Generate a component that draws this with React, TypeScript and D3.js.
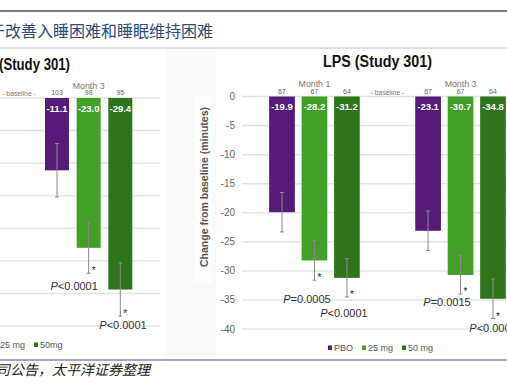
import React, { useRef, useEffect } from 'react';
import * as d3 from 'd3';

// doses shared by both panels
const doses = ['PBO', '25 mg', '50 mg'];
const doseColors = ['#561a78', '#42a026', '#2e741b'];

// LPS (Study 301) panel
const lpsMonths = ['Month 1', 'Month 3'];
const lpsValues = [[-19.9, -28.2, -31.2], [-23.1, -30.7, -34.8]];
const lpsErrors = [[3.4, 3.4, 3.3], [3.4, 3.3, 3.4]];
const lpsCounts = [[67, 67, 64], [67, 67, 64]];
const lpsPValues = [[null, '=0.0005', '<0.0001'], [null, '=0.0015', '<0.0001']];
const lpsTicks = [0, -5, -10, -15, -20, -25, -30, -35, -40];

// left panel, cropped: only Month 3 is in view
const leftMonths = ['Month 3'];
const leftValues = [[-11.1, -23.0, -29.4]];
const leftErrors = [[4.1, 3.9, 4.1]];
const leftCounts = [[103, 98, 95]];
const leftPValues = [[null, '<0.0001', '<0.0001']];
const leftTicks = [0, -5, -10, -15, -20, -25, -30, -35];
const leftLegend = ['PBO', '25 mg', '50mg'];

const FONT = '"Liberation Sans", Arial, sans-serif';
const CJK = '"Noto Sans CJK SC", sans-serif';

function drawPanel(svg, cfg) {
    const g = svg.append('g');
    const y = d3.scaleLinear().domain(cfg.yDomain).range(cfg.yRange);
    const x = d3.scaleLinear().domain(cfg.slotDomain).range(cfg.slotRange);

    // gridlines
    g.selectAll('.grid')
        .data(cfg.ticks)
        .enter()
        .append('line')
        .attr('x1', cfg.gridX[0])
        .attr('x2', cfg.gridX[1])
        .attr('y1', d => y(d))
        .attr('y2', d => y(d))
        .attr('stroke', '#e3e3e3')
        .attr('stroke-width', 1.5);

    if (cfg.showAxis) {
        g.selectAll('.tick')
            .data(cfg.ticks)
            .enter()
            .append('text')
            .attr('x', cfg.axisX)
            .attr('y', d => y(d))
            .attr('dy', '0.35em')
            .attr('text-anchor', 'end')
            .style('font-family', FONT)
            .style('font-size', '10px')
            .style('fill', '#666')
            .text(d => d);
    }

    // baseline label
    g.append('text')
        .attr('x', x(cfg.baselineSlot))
        .attr('y', y(0) - 2)
        .attr('text-anchor', 'middle')
        .style('font-family', FONT)
        .style('font-size', '6.8px')
        .style('fill', '#777')
        .text('- baseline -');

    cfg.months.forEach((month, m) => {
        const start = cfg.monthSlots[m];

        g.append('text')
            .attr('x', x(start + 1))
            .attr('y', y(0) - 9.5)
            .attr('text-anchor', 'middle')
            .style('font-family', FONT)
            .style('font-size', '8.8px')
            .style('fill', '#777')
            .text(month);

        doses.forEach((dose, i) => {
            const cx = x(start + i);
            const v = cfg.values[m][i];
            const e = cfg.errors[m][i];

            g.append('rect')
                .attr('x', cx - cfg.barWidth / 2)
                .attr('y', y(0))
                .attr('width', cfg.barWidth)
                .attr('height', y(v) - y(0))
                .attr('fill', doseColors[i]);

            g.append('text')
                .attr('x', cx)
                .attr('y', y(0) - 3)
                .attr('text-anchor', 'middle')
                .style('font-family', FONT)
                .style('font-size', '7px')
                .style('fill', '#666')
                .text(cfg.counts[m][i]);

            g.append('text')
                .attr('x', cx)
                .attr('y', y(0) + 13.5)
                .attr('text-anchor', 'middle')
                .style('font-family', FONT)
                .style('font-size', '9.5px')
                .style('font-weight', 'bold')
                .style('fill', '#fff')
                .text(v.toFixed(1));

            // error bar
            const top = y(v + e);
            const bottom = y(v - e);
            g.append('line')
                .attr('x1', cx).attr('x2', cx)
                .attr('y1', top).attr('y2', bottom)
                .attr('stroke', '#8a8a8a').attr('stroke-width', 1);
            [top, bottom].forEach(yy => {
                g.append('line')
                    .attr('x1', cx - 2).attr('x2', cx + 2)
                    .attr('y1', yy).attr('y2', yy)
                    .attr('stroke', '#8a8a8a').attr('stroke-width', 1);
            });

            const p = cfg.pValues[m][i];
            if (p) {
                g.append('text')
                    .attr('x', cx + 3)
                    .attr('y', bottom + 1)
                    .style('font-family', FONT)
                    .style('font-size', '10px')
                    .style('fill', '#222')
                    .text('*');

                const nudge = cfg.pNudge[m][i];
                const t = g.append('text')
                    .attr('x', cx + nudge[0])
                    .attr('y', bottom + nudge[1])
                    .attr('text-anchor', 'middle')
                    .style('font-family', FONT)
                    .style('font-size', '11px')
                    .style('fill', '#333');
                t.append('tspan').style('font-style', 'italic').text('P');
                t.append('tspan').text(p);
            }
        });
    });

    // legend
    let lx = cfg.legendX;
    cfg.legend.forEach((name, i) => {
        g.append('rect')
            .attr('x', lx)
            .attr('y', cfg.legendY - 2.5)
            .attr('width', 4)
            .attr('height', 4.5)
            .attr('fill', doseColors[i]);
        const t = g.append('text')
            .attr('x', lx + 6)
            .attr('y', cfg.legendY)
            .attr('dy', '0.35em')
            .style('font-family', FONT)
            .style('font-size', '9px')
            .style('fill', '#555')
            .text(name);
        lx += 6 + t.node().getComputedTextLength() + 9;
    });

    return g;
}

const App = () => {
    const svgRef = useRef();

    useEffect(() => {
        if (!svgRef.current) return;
        document.body.style.margin = '0';

        const svg = d3.select(svgRef.current);
        svg.selectAll('*').remove();

        svg.append('rect').attr('width', 507).attr('height', 384).attr('fill', '#fff');

        // faint band between the two panels
        svg.append('rect')
            .attr('x', 166).attr('y', 50).attr('width', 50).attr('height', 308)
            .attr('fill', '#f9f9f9');
        svg.append('rect')
            .attr('x', 195).attr('y', 95).attr('width', 17).attr('height', 188)
            .attr('fill', '#fdfdfd');

        // header
        svg.append('line')
            .attr('x1', 0).attr('x2', 507).attr('y1', 11).attr('y2', 11)
            .attr('stroke', '#4a4a72').attr('stroke-width', 1.5);
        svg.append('text')
            .attr('x', -11)
            .attr('y', 37)
            .style('font-family', CJK)
            .style('font-size', '16px')
            .style('fill', '#2a4b7f')
            .text('于改善入睡困难和睡眠维持困难');
        svg.append('line')
            .attr('x1', 0).attr('x2', 507).attr('y1', 48).attr('y2', 48)
            .attr('stroke', '#b9b9d6').attr('stroke-width', 1);

        // panel titles
        svg.append('text')
            .attr('x', -1)
            .attr('y', 70)
            .attr('textLength', 71)
            .attr('lengthAdjust', 'spacingAndGlyphs')
            .style('font-family', FONT)
            .style('font-size', '16px')
            .style('font-weight', 'bold')
            .style('fill', '#111')
            .text('(Study 301)');
        svg.append('text')
            .attr('x', 323)
            .attr('y', 66.5)
            .attr('textLength', 109)
            .attr('lengthAdjust', 'spacingAndGlyphs')
            .style('font-family', FONT)
            .style('font-size', '16px')
            .style('font-weight', 'bold')
            .style('fill', '#111')
            .text('LPS (Study 301)');

        drawPanel(svg, {
            months: leftMonths,
            values: leftValues,
            errors: leftErrors,
            counts: leftCounts,
            pValues: leftPValues,
            ticks: leftTicks,
            yDomain: [0, -35],
            yRange: [98, 326],
            slotDomain: [4.5, 6.5],
            slotRange: [57, 120.3],
            monthSlots: [4.5],
            baselineSlot: 3.3,
            barWidth: 24,
            gridX: [0, 160],
            showAxis: false,
            pNudge: [[null, [-14.5, 17], [2.7, 12.5]]],
            legend: leftLegend,
            legendX: -40,
            legendY: 345,
        });

        drawPanel(svg, {
            months: lpsMonths,
            values: lpsValues,
            errors: lpsErrors,
            counts: lpsCounts,
            pValues: lpsPValues,
            ticks: lpsTicks,
            yDomain: [0, -40],
            yRange: [96.5, 329],
            slotDomain: [0, 6.5],
            slotRange: [282, 493],
            monthSlots: [0, 4.5],
            baselineSlot: 3.25,
            barWidth: 25.7,
            gridX: [242, 507],
            showAxis: true,
            axisX: 235,
            pNudge: [[null, [-7.5, 22.5], [-3, 20]], [null, [-13.5, 12], [0, 13]]],
            legend: doses,
            legendX: 328,
            legendY: 348,
        });

        // y axis title of the LPS panel
        svg.append('text')
            .attr('transform', 'translate(204, 187) rotate(-90)')
            .attr('text-anchor', 'middle')
            .attr('dy', '0.35em')
            .attr('textLength', 160)
            .attr('lengthAdjust', 'spacingAndGlyphs')
            .style('font-family', FONT)
            .style('font-size', '10.5px')
            .style('font-weight', 'bold')
            .style('fill', '#555')
            .text('Change from baseline (minutes)');

        // footer
        svg.append('line')
            .attr('x1', 0).attr('x2', 507).attr('y1', 360).attr('y2', 360)
            .attr('stroke', '#8686ae').attr('stroke-width', 1.5);
        svg.append('text')
            .attr('x', -4)
            .attr('y', 375)
            .style('font-family', CJK)
            .style('font-size', '14px')
            .style('font-style', 'italic')
            .style('fill', '#222')
            .text('司公告，太平洋证券整理');
    }, []);

    return (
        <svg ref={svgRef} width={507} height={384} style={{ display: 'block' }}></svg>
    );
};

export default App;
